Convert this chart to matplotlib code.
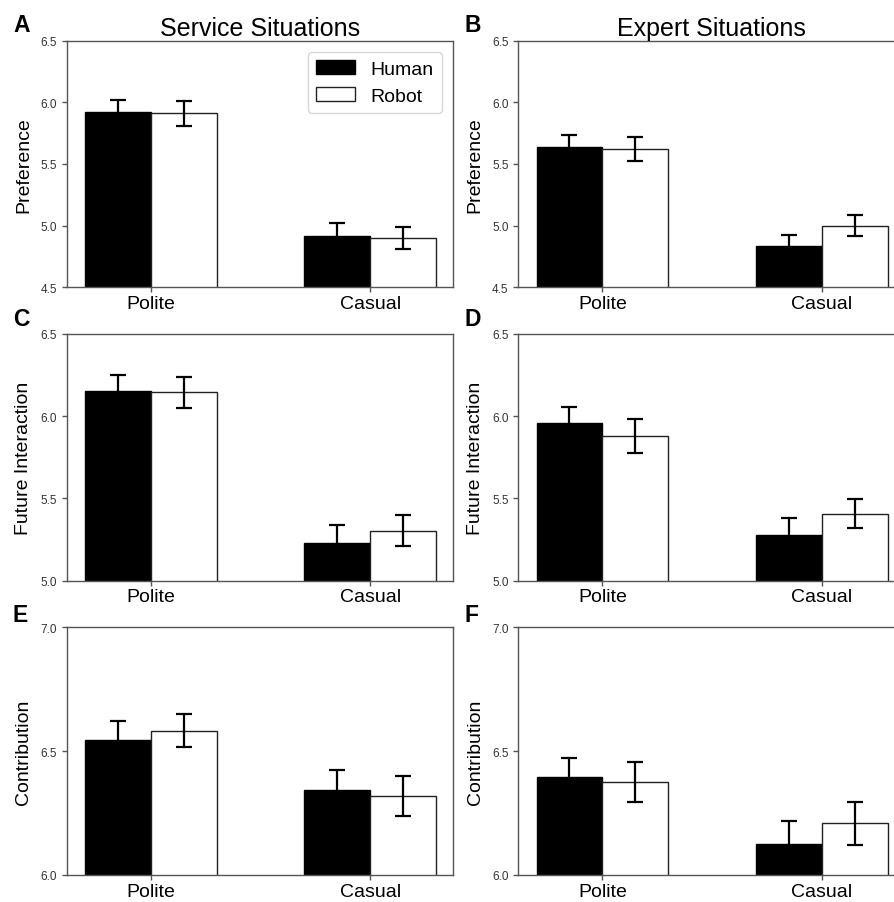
import matplotlib
matplotlib.use("Agg")
import matplotlib.pyplot as plt
import numpy as np

plt.rcParams['font.family'] = ['Liberation Sans', 'DejaVu Sans']

categories = ["Polite", "Casual"]
groups = ["Human", "Robot"]

# Panel A: Service - Preference
a_human = [5.92, 4.92]
a_human_err = [0.10, 0.10]
a_robot = [5.91, 4.90]
a_robot_err = [0.10, 0.088]
# Panel B: Expert - Preference
b_human = [5.638, 4.832]
b_human_err = [0.097, 0.092]
b_robot = [5.619, 5.00]
b_robot_err = [0.097, 0.084]
# Panel C: Service - Future Interaction
c_human = [6.151, 5.229]
c_human_err = [0.10, 0.107]
c_robot = [6.145, 5.304]
c_robot_err = [0.092, 0.095]
# Panel D: Expert - Future Interaction
d_human = [5.961, 5.280]
d_human_err = [0.093, 0.10]
d_robot = [5.878, 5.408]
d_robot_err = [0.103, 0.088]
# Panel E: Service - Contribution
e_human = [6.543, 6.343]
e_human_err = [0.08, 0.08]
e_robot = [6.582, 6.320]
e_robot_err = [0.066, 0.081]
# Panel F: Expert - Contribution
f_human = [6.394, 6.124]
f_human_err = [0.078, 0.095]
f_robot = [6.376, 6.208]
f_robot_err = [0.081, 0.085]

ylims = [(4.5, 6.5), (5.0, 6.5), (6.0, 7.0)]
yticks = [[4.5, 5.0, 5.5, 6.0, 6.5], [5.0, 5.5, 6.0, 6.5], [6.0, 6.5, 7.0]]
ylabels = ["Preference", "Future Interaction", "Contribution"]
titles = ["Service Situations", "Expert Situations"]
letters = ["A", "B", "C", "D", "E", "F"]

panels = [
    (a_human, a_human_err, a_robot, a_robot_err),
    (b_human, b_human_err, b_robot, b_robot_err),
    (c_human, c_human_err, c_robot, c_robot_err),
    (d_human, d_human_err, d_robot, d_robot_err),
    (e_human, e_human_err, e_robot, e_robot_err),
    (f_human, f_human_err, f_robot, f_robot_err),
]

W, H = 895, 903
fig = plt.figure(figsize=(W / 100, H / 100), dpi=100)

col_left = [66.7, 518.3]
ax_w = 386.5
row_tops = [41.7, 335.0, 628.3]
row_bots = [288.3, 581.7, 876.0]
letter_base = [31.5, 326.0, 622.0]
letter_x = [13, 465]

spine_col = "#555555"
tick_col = "#333333"
bw = 0.30
x = np.arange(len(categories))

for i, (hm, he, rb, re_) in enumerate(panels):
    r, c = divmod(i, 2)
    left = col_left[c] / W
    bottom = 1 - row_bots[r] / H
    height = (row_bots[r] - row_tops[r]) / H
    ax = fig.add_axes([left, bottom, ax_w / W, height])
    ek = dict(ecolor="black", elinewidth=1.6, capsize=6, capthick=1.6)
    ax.bar(x - bw / 2, hm, bw, yerr=he, color="black", edgecolor="black",
           linewidth=1.0, label=groups[0], error_kw=ek, bottom=0)
    ax.bar(x + bw / 2, rb, bw, yerr=re_, color="white", edgecolor="#222222",
           linewidth=1.0, label=groups[1], error_kw=ek)
    ax.set_xlim(-0.383, 1.378)
    ax.set_ylim(*ylims[r])
    ax.set_yticks(yticks[r])
    ax.set_yticklabels([f"{v:.1f}" for v in yticks[r]], fontsize=8.5, color=tick_col)
    ax.set_xticks(x)
    ax.set_xticklabels(categories, fontsize=14)
    ax.tick_params(axis='both', colors=spine_col, length=3.5, width=1.0)
    ax.tick_params(axis='x', labelcolor="black", pad=2)
    ax.tick_params(axis='y', labelcolor=tick_col)
    for s in ax.spines.values():
        s.set_color(spine_col)
        s.set_linewidth(1.0)
    ax.set_ylabel(ylabels[r], fontsize=14, labelpad=6)
    if r == 0:
        ax.set_title(titles[c], fontsize=18, pad=4)
    if i == 0:
        ax.legend(loc="upper right", fontsize=14, frameon=True,
                  borderaxespad=0.6)
    fig.text(letter_x[c] / W, 1 - letter_base[r] / H, letters[i],
             fontsize=16.5, fontweight="bold", va="baseline", ha="left")

fig.savefig("out.png", dpi=100)
